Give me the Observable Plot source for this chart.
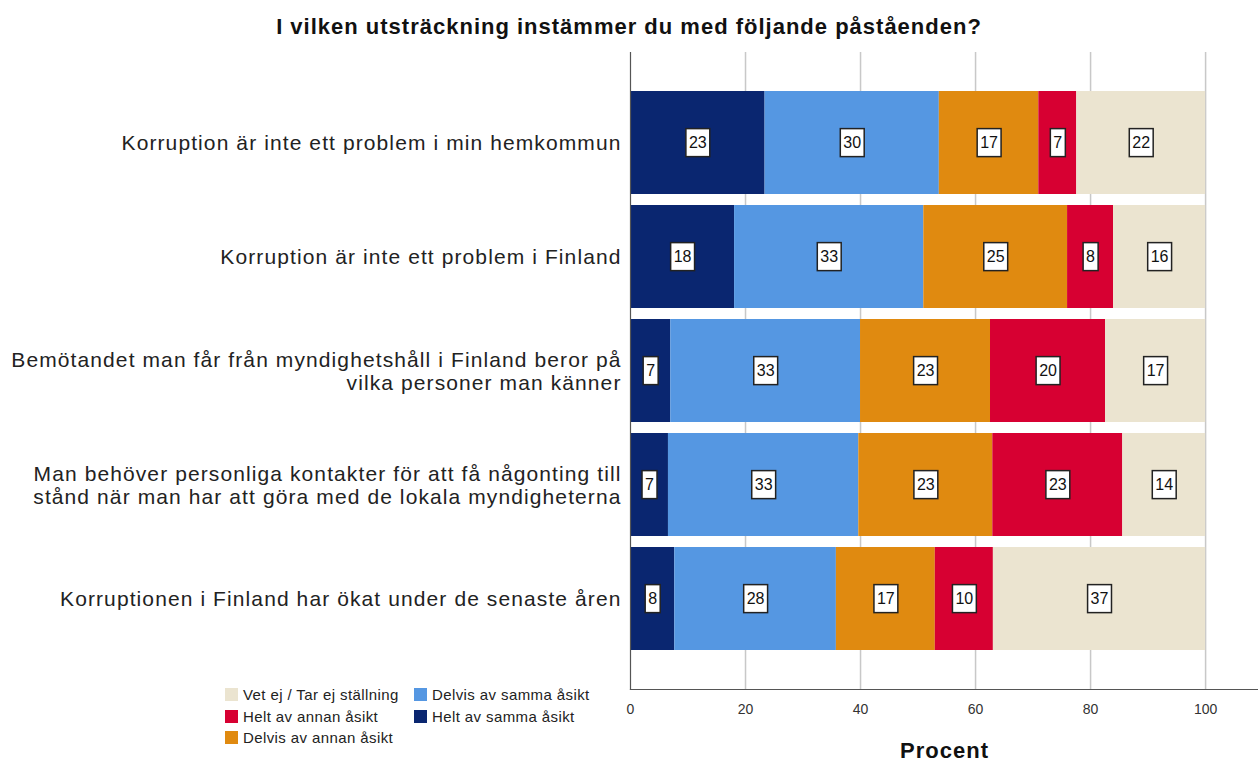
<!DOCTYPE html>
<html>
<head>
<meta charset="utf-8">
<script src="https://cdn.jsdelivr.net/npm/d3@7"></script>
<script src="https://cdn.jsdelivr.net/npm/@observablehq/plot@0.6"></script>
<style>
  body { margin: 0; background: #fff; font-family: Arial, "Liberation Sans", sans-serif; }
  #wrap { position: relative; width: 1258px; height: 764px; }
  #title { height: 40px; line-height: 54px; text-align: center; font-weight: bold; font-size: 22px; letter-spacing: 1px; color: #111; }
  #legend { position: absolute; left: 225px; top: 684px; font-size: 15px; letter-spacing: 0.4px; color: #222; display: grid; grid-template-columns: 189px 200px; grid-auto-flow: column; grid-template-rows: repeat(3, 21.5px); }
  .item { display: flex; align-items: center; white-space: nowrap; }
  .sw { width: 13px; height: 13px; margin-right: 5px; display: inline-block; }
</style>
</head>
<body>
<div id="wrap">
  <div id="title">I vilken utsträckning instämmer du med följande påståenden?</div>
  <div id="chart"></div>
  <div id="legend"></div>
</div>
<script>
const questions = [
  "Korruption är inte ett problem i min hemkommun",
  "Korruption är inte ett problem i Finland",
  "Bemötandet man får från myndighetshåll i Finland beror på\nvilka personer man känner",
  "Man behöver personliga kontakter för att få någonting till\nstånd när man har att göra med de lokala myndigheterna",
  "Korruptionen i Finland har ökat under de senaste åren"
];
const responses = [
  "Helt av samma åsikt",
  "Delvis av samma åsikt",
  "Delvis av annan åsikt",
  "Helt av annan åsikt",
  "Vet ej / Tar ej ställning"
];
const colors = ["#0a2670", "#5597e2", "#e08a10", "#d70032", "#ebe4d0"];
// values per response (in order of questions)
const heltSamma   = [23.4, 18.1,  7.0,  6.6,  7.7];
const delvisSamma = [30.3, 32.9, 33.0, 33.1, 28.1];
const delvisAnnan = [17.3, 25.0, 22.6, 23.3, 17.2];
const heltAnnan   = [ 6.6,  8.0, 20.0, 22.6, 10.1];
const vetEj       = [22.4, 16.0, 17.4, 14.4, 36.9];
const legendOrder = ["Vet ej / Tar ej ställning", "Helt av annan åsikt", "Delvis av annan åsikt", "Delvis av samma åsikt", "Helt av samma åsikt"];
const xTicks = [0, 20, 40, 60, 80, 100];

const series = [heltSamma, delvisSamma, delvisAnnan, heltAnnan, vetEj];
const data = [];
questions.forEach((q, i) => {
  responses.forEach((r, j) => data.push({q, r, value: series[j][i]}));
});

const plot = Plot.plot({
  width: 1258,
  height: 724,
  marginTop: 12,
  marginBottom: 75,
  marginLeft: 630,
  marginRight: 0,
  style: {fontFamily: 'Arial, "Liberation Sans", sans-serif', background: "#fff"},
  x: {domain: [0, 109.2]},
  y: {domain: questions, paddingInner: 0.1, paddingOuter: 0.32},
  color: {domain: responses, range: colors},
  marks: [
    Plot.gridX(xTicks.slice(1), {stroke: "#c8c8c8", strokeOpacity: 1, strokeWidth: 1.5}),
    Plot.barX(data, Plot.stackX({x: "value", y: "q", fill: "r", order: responses, inset: 0})),
    Plot.frame({anchor: "left", stroke: "#555", strokeWidth: 1.2}),
    Plot.frame({anchor: "bottom", stroke: "#555", strokeWidth: 1.2}),
    Plot.axisX(xTicks, {tickSize: 0, tickPadding: 15, fontSize: 14, fill: "#333", label: null}),
    Plot.axisY({tickSize: 0, tickPadding: 9, fontSize: 21, fill: "#222", lineHeight: 1.1, label: null, className: "ylab"}),
    Plot.text(data, Plot.stackX({x: "value", y: "q", z: "r", order: responses, text: d => Math.round(d.value), fontSize: 16, fill: "#111", className: "vlabel"})),
    Plot.text(["Procent"], {frameAnchor: "bottom", dy: 68, fontSize: 22, fontWeight: "bold", fill: "#111", className: "xtitle"})
  ]
});
document.getElementById("chart").appendChild(plot);

const svg = plot.tagName.toLowerCase() === "svg" ? plot : plot.querySelector("svg");
svg.querySelectorAll("g.ylab text").forEach(t => t.setAttribute("letter-spacing", "1.1"));
svg.querySelectorAll("g.xtitle text").forEach(t => t.setAttribute("letter-spacing", "1"));

// white label boxes behind the value texts
svg.querySelectorAll("g.vlabel text").forEach(t => {
  const b = t.getBBox();
  const r = document.createElementNS("http://www.w3.org/2000/svg", "rect");
  const padX = 3;
  r.setAttribute("x", b.x - padX);
  r.setAttribute("y", b.y + b.height / 2 - 14);
  r.setAttribute("width", b.width + 2 * padX);
  r.setAttribute("height", 28);
  r.setAttribute("fill", "#fff");
  r.setAttribute("stroke", "#222");
  r.setAttribute("stroke-width", "1.5");
  const tr = t.getAttribute("transform");
  if (tr) r.setAttribute("transform", tr);
  t.parentNode.insertBefore(r, t);
});

const leg = document.getElementById("legend");
legendOrder.forEach(name => {
  const c = colors[responses.indexOf(name)];
  const it = document.createElement("div");
  it.className = "item";
  it.innerHTML = `<span class="sw" style="background:${c}"></span>${name}`;
  leg.appendChild(it);
});
</script>
</body>
</html>
